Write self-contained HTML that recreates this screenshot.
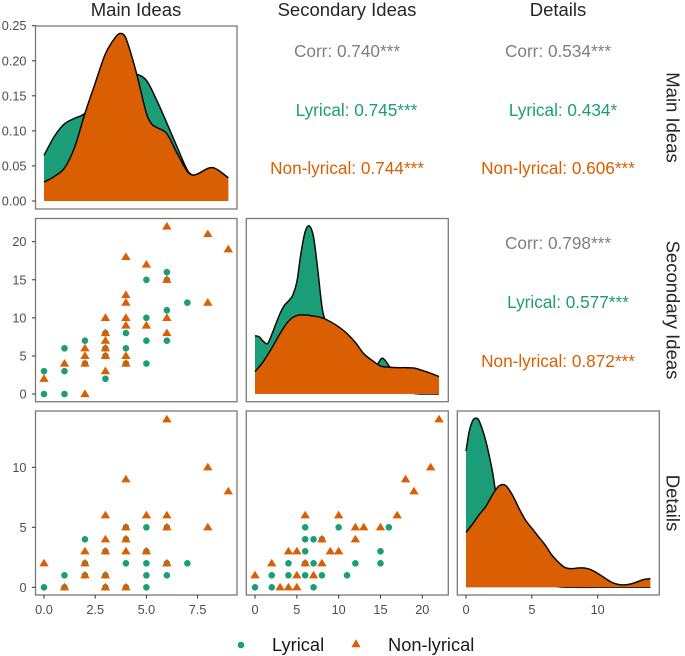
<!DOCTYPE html>
<html>
<head>
<meta charset="utf-8">
<style>
html,body{margin:0;padding:0;background:#fff;width:685px;height:656px;overflow:hidden}
svg{display:block;font-family:"Liberation Sans",Arial,sans-serif}
</style>
</head>
<body>
<svg id="chart" xmlns="http://www.w3.org/2000/svg" width="685" height="656" viewBox="0 0 685 656">
  <rect width="685" height="656" fill="#fff"/>
  <g id="layer"></g>
  <g font-size="18.5" fill="#262626" text-anchor="middle">
    <text x="136" y="16">Main Ideas</text>
    <text x="347" y="16">Secondary Ideas</text>
    <text x="558" y="16">Details</text>
  </g>
  <g font-size="18.5" fill="#262626" text-anchor="middle">
    <text transform="translate(666.5,117.5) rotate(90)">Main Ideas</text>
    <text transform="translate(666.5,310) rotate(90)">Secondary Ideas</text>
    <text transform="translate(666.5,503) rotate(90)">Details</text>
  </g>
  <g font-size="17.2" text-anchor="middle">
    <text x="347" y="57" fill="#7f7f7f">Corr: 0.740***</text>
    <text x="356.5" y="116" fill="#1b9e77">Lyrical: 0.745***</text>
    <text x="347" y="174" fill="#d95f02">Non-lyrical: 0.744***</text>
    <text x="558" y="57" fill="#7f7f7f">Corr: 0.534***</text>
    <text x="563" y="116" fill="#1b9e77">Lyrical: 0.434*</text>
    <text x="558" y="174" fill="#d95f02">Non-lyrical: 0.606***</text>
    <text x="558" y="249" fill="#7f7f7f">Corr: 0.798***</text>
    <text x="568" y="308" fill="#1b9e77">Lyrical: 0.577***</text>
    <text x="558" y="367" fill="#d95f02">Non-lyrical: 0.872***</text>
  </g>
  <g>
    <circle cx="241" cy="645" r="3.3" fill="#1b9e77"/>
    <text x="272" y="651" font-size="18.3" fill="#1a1a1a">Lyrical</text>
    <polygon points="356,639.3 360.6,647.3 351.4,647.3" fill="#d95f02"/>
    <text x="388" y="651" font-size="18.3" fill="#1a1a1a">Non-lyrical</text>
  </g>
</svg>
<script>
// Density grids
const mainGridLyr = [0,0.5,1,1.5,2,2.5,3,3.5,4,4.5,5,5.5,6,6.5,7,7.25,7.5,8,8.25,8.5,9];
const mainLyr = [0.065,0.092,0.110,0.118,0.125,0.145,0.165,0.178,0.182,0.181,0.172,0.144,0.111,0.077,0.044,0.037,0.0385,0.0465,0.0475,0.044,0.033];
const mainGridNon = [0,0.5,1,1.5,2,2.5,3,3.5,3.75,4,4.5,5,5.25,5.5,6,6.5,7,7.25,7.5,8,8.25,8.5,9];
const mainNon = [0.027,0.035,0.047,0.077,0.125,0.168,0.21,0.234,0.239,0.232,0.184,0.125,0.11,0.105,0.096,0.068,0.042,0.037,0.0385,0.0465,0.0475,0.044,0.033];

const secGridLyr = [0,0.5,1,1.5,2,3,3.5,4,4.5,5,5.5,6,6.5,7,7.5,8,8.3,9,10,11,12,13,14,14.7,15.25,16.1,17,18,19,20,21,22];
const secLyr = [0.052,0.051,0.047,0.045,0.053,0.072,0.079,0.083,0.088,0.100,0.126,0.145,0.150,0.140,0.111,0.078,0.068,0.058,0.045,0.030,0.020,0.015,0.018,0.027,0.032,0.024,0.012,0.003,0.0005,0,0,0];
const secGridNon = [0,1,2,3,4,5,6,7,8,9,10,11,12,13,14,15,16,17,18,19,20,21,22];
const secNon = [0.020,0.029,0.041,0.054,0.065,0.070,0.0705,0.0696,0.068,0.0646,0.060,0.054,0.046,0.036,0.030,0.025,0.024,0.0235,0.0235,0.0232,0.021,0.0185,0.0155];

const detGridLyr = [0,0.25,0.5,0.75,1,1.5,2,2.25,3,4,5,6,7,8,10,12,14];
const detLyr = [0.226,0.259,0.276,0.2806,0.276,0.243,0.193,0.159,0.09,0.045,0.02,0.006,0.001,0,0,0,0];
const detGridNon = [0,0.5,1,1.5,2,2.5,3,3.5,4,4.5,5,5.5,6,6.5,7,7.5,8,8.5,9,9.5,10,10.5,11,11.5,12,12.5,13,13.5,14];
const detNon = [0.091,0.105,0.1205,0.134,0.153,0.168,0.169,0.154,0.132,0.112,0.098,0.084,0.0705,0.054,0.042,0.033,0.031,0.032,0.032,0.029,0.023,0.016,0.009,0.005,0.004,0.0055,0.009,0.013,0.0144];

// Scatter values
const secVsMainLyrX = [0,0,1,1,1,2,2,3,3,3,3,4,4,4,5,5,5,5,6,6,6,6,7];
const secVsMainLyrY = [3,0,0,3,6,4,7,2,5,6,8,4,6,8,4,7,10,15,7,11,15,16,12];
const secVsMainNonX = [0,1,2,2,2,2,3,3,3,3,3,3,4,4,4,4,4,4,4,5,5,6,6,6,6,8,8,9];
const secVsMainNonY = [2,4,0,4,5,6,3,5,6,7,8,10,4,5,9,10,12,13,18,9,17,8,10,15,22,12,21,19];

const detVsMainLyrX = [0,1,1,2,2,2,3,3,3,4,4,4,4,5,5,5,5,5,6,6,6,7];
const detVsMainLyrY = [0,1,0,4,2,1,3,1,0,4,2,5,0,5,3,2,1,0,5,2,1,2];
const detVsMainNonX = [0,1,2,2,2,3,3,3,3,3,4,4,4,4,4,5,5,6,6,6,6,8,8,9];
const detVsMainNonY = [2,0,3,2,1,6,4,3,1,0,9,5,4,3,0,6,3,14,6,5,2,10,5,8];

const detVsSecLyrX = [0,2,2,4,4,6,6,6,6,6,7,7,7,8,8,10,11,12,15,15,16];
const detVsSecLyrY = [0,1,0,2,1,5,4,3,2,1,4,2,0,4,1,5,1,2,3,2,5];
const detVsSecNonX = [0,2,3,4,4,5,5,5,6,6,7,8,8,9,10,10,12,12,13,15,17,18,19,21,22];
const detVsSecNonY = [1,2,0,3,0,3,1,0,6,2,1,4,2,3,6,3,5,4,5,5,6,9,8,10,14];

// Tick labels
const xTicksMain = [0,2.5,5,7.5];
const xTicksSec = [0,5,10,15,20];
const xTicksDet = [0,5,10];
const yTicksDensity = [0,0.05,0.10,0.15,0.20,0.25];
const yTicksSec = [0,5,10,15,20];
const yTicksDet = [0,5,10];

const NS = 'http://www.w3.org/2000/svg';
const layer = document.getElementById('layer');
const GREEN = '#1b9e77', ORANGE = '#d95f02';

function mk(tag, attrs, parent) {
  const e = document.createElementNS(NS, tag);
  for (const k in attrs) e.setAttribute(k, attrs[k]);
  (parent || layer).appendChild(e);
  return e;
}
function linear(d0, d1, r0, r1) {
  return v => r0 + (v - d0) * (r1 - r0) / (d1 - d0);
}
// Axis functions
const xMain = linear(0, 9, 44, 228.3);
const xSec = linear(0, 20, 255, 422.3);
const xDet = linear(0, 10, 466, 597.7);
const yDens1 = linear(0, 0.25, 201, 25.7);
const ySec = linear(0, 20, 394, 241.7);
const yDet = linear(0, 10, 587.3, 467.3);
const yDens2 = linear(0, 0.15, 394, 226);
const yDens3 = linear(0, 0.28, 587.3, 418.5);

// Cubic Hermite through the points, slopes from neighbouring points (handles uneven spacing)
function smoothPath(pts) {
  const n = pts.length;
  const slope = i => {
    const a = pts[Math.max(0, i - 1)], b = pts[Math.min(n - 1, i + 1)];
    return (b[1] - a[1]) / (b[0] - a[0]);
  };
  let d = 'M' + pts[0][0].toFixed(2) + ',' + pts[0][1].toFixed(2);
  for (let i = 0; i < n - 1; i++) {
    const p1 = pts[i], p2 = pts[i + 1], h = (p2[0] - p1[0]) / 3;
    d += 'C' + (p1[0] + h).toFixed(2) + ',' + (p1[1] + slope(i) * h).toFixed(2) +
      ' ' + (p2[0] - h).toFixed(2) + ',' + (p2[1] - slope(i + 1) * h).toFixed(2) +
      ' ' + p2[0].toFixed(2) + ',' + p2[1].toFixed(2);
  }
  return d;
}
function drawDensity(grid, vals, sx, sy, color, name) {
  const pts = grid.map((g, i) => [sx(g), sy(vals[i])]);
  const line = smoothPath(pts);
  const base = sy(0);
  const area = mk('path', {d: line + 'L' + pts[pts.length - 1][0].toFixed(2) + ',' + base + 'L' + pts[0][0].toFixed(2) + ',' + base + 'Z', fill: color, stroke: 'none'});
  
  
  const stroke = mk('path', {d: line, fill: 'none', stroke: '#0a0a0a', 'stroke-width': 1.5});
  
  
}
function drawCircles(xs, ys, sx, sy, name) {
  xs.forEach((x, i) => {
    const c = mk('circle', {cx: sx(x), cy: sy(ys[i]), r: 3.3, fill: GREEN});
    
    
  });
}
function drawTriangles(xs, ys, sx, sy, name) {
  xs.forEach((x, i) => {
    const cx = sx(x), cy = sy(ys[i]);
    const t = mk('polygon', {points: cx + ',' + (cy - 4.6) + ' ' + (cx + 4.7) + ',' + (cy + 3.1) + ' ' + (cx - 4.7) + ',' + (cy + 3.1), fill: ORANGE});
    
    
  });
}
function drawBox(x0, y0, x1, y1, name) {
  const b = mk('rect', {x: x0, y: y0, width: x1 - x0, height: y1 - y0, fill: 'none', stroke: '#7a7a7a', 'stroke-width': 1.3});
  
  
}
function drawXTicks(ticks, sx, yBase, name, fmt) {
  ticks.forEach(v => {
    const x = sx(v);
    const t = mk('line', {x1: x, x2: x, y1: yBase, y2: yBase + 3.6, stroke: '#333', 'stroke-width': 1});
    
    
    const l = mk('text', {x: x, y: yBase + 19, 'text-anchor': 'middle', 'font-size': 12.7, fill: '#4d4d4d'});
    l.textContent = fmt(v);
    
    
  });
}
function drawYTicks(ticks, sy, xBase, name, fmt) {
  ticks.forEach(v => {
    const y = sy(v);
    const t = mk('line', {x1: xBase - 3.6, x2: xBase, y1: y, y2: y, stroke: '#333', 'stroke-width': 1});
    
    
    const l = mk('text', {x: xBase - 9, y: y + 4.5, 'text-anchor': 'end', 'font-size': 12.7, fill: '#4d4d4d'});
    l.textContent = fmt(v);
    
    
  });
}

// Density panels
drawDensity(mainGridLyr, mainLyr, xMain, yDens1, GREEN, 'main-ideas-density-lyrical');
drawDensity(mainGridNon, mainNon, xMain, yDens1, ORANGE, 'main-ideas-density-nonlyrical');
drawDensity(secGridLyr, secLyr, xSec, yDens2, GREEN, 'secondary-ideas-density-lyrical');
drawDensity(secGridNon, secNon, xSec, yDens2, ORANGE, 'secondary-ideas-density-nonlyrical');
drawDensity(detGridLyr, detLyr, xDet, yDens3, GREEN, 'details-density-lyrical');
drawDensity(detGridNon, detNon, xDet, yDens3, ORANGE, 'details-density-nonlyrical');

// Scatter panels
drawCircles(secVsMainLyrX, secVsMainLyrY, xMain, ySec, 'point-secondary-vs-main-lyrical');
drawTriangles(secVsMainNonX, secVsMainNonY, xMain, ySec, 'point-secondary-vs-main-nonlyrical');
drawCircles(detVsMainLyrX, detVsMainLyrY, xMain, yDet, 'point-details-vs-main-lyrical');
drawTriangles(detVsMainNonX, detVsMainNonY, xMain, yDet, 'point-details-vs-main-nonlyrical');
drawCircles(detVsSecLyrX, detVsSecLyrY, xSec, yDet, 'point-details-vs-secondary-lyrical');
drawTriangles(detVsSecNonX, detVsSecNonY, xSec, yDet, 'point-details-vs-secondary-nonlyrical');

// Panel borders
const colEdges = [[35.5, 237], [246.3, 448.3], [457.3, 659.3]];
const rowEdges = [[26, 209], [218.5, 401.7], [411, 595]];
rowEdges.forEach((r, ri) => {
  colEdges.forEach((c, ci) => {
    if (ci <= ri) drawBox(c[0], r[0], c[1], r[1], 'panel-border-r' + (ri + 1) + '-c' + (ci + 1));
  });
});

// Axes
drawYTicks(yTicksDensity, yDens1, 35.5, 'y-axis-density', v => v.toFixed(2));
drawYTicks(yTicksSec, ySec, 35.5, 'y-axis-secondary', v => String(v));
drawYTicks(yTicksDet, yDet, 35.5, 'y-axis-details', v => String(v));
drawXTicks(xTicksMain, xMain, 595, 'x-axis-main', v => v.toFixed(1));
drawXTicks(xTicksSec, xSec, 595, 'x-axis-secondary', v => String(v));
drawXTicks(xTicksDet, xDet, 595, 'x-axis-details', v => String(v));
</script>
</body>
</html>
